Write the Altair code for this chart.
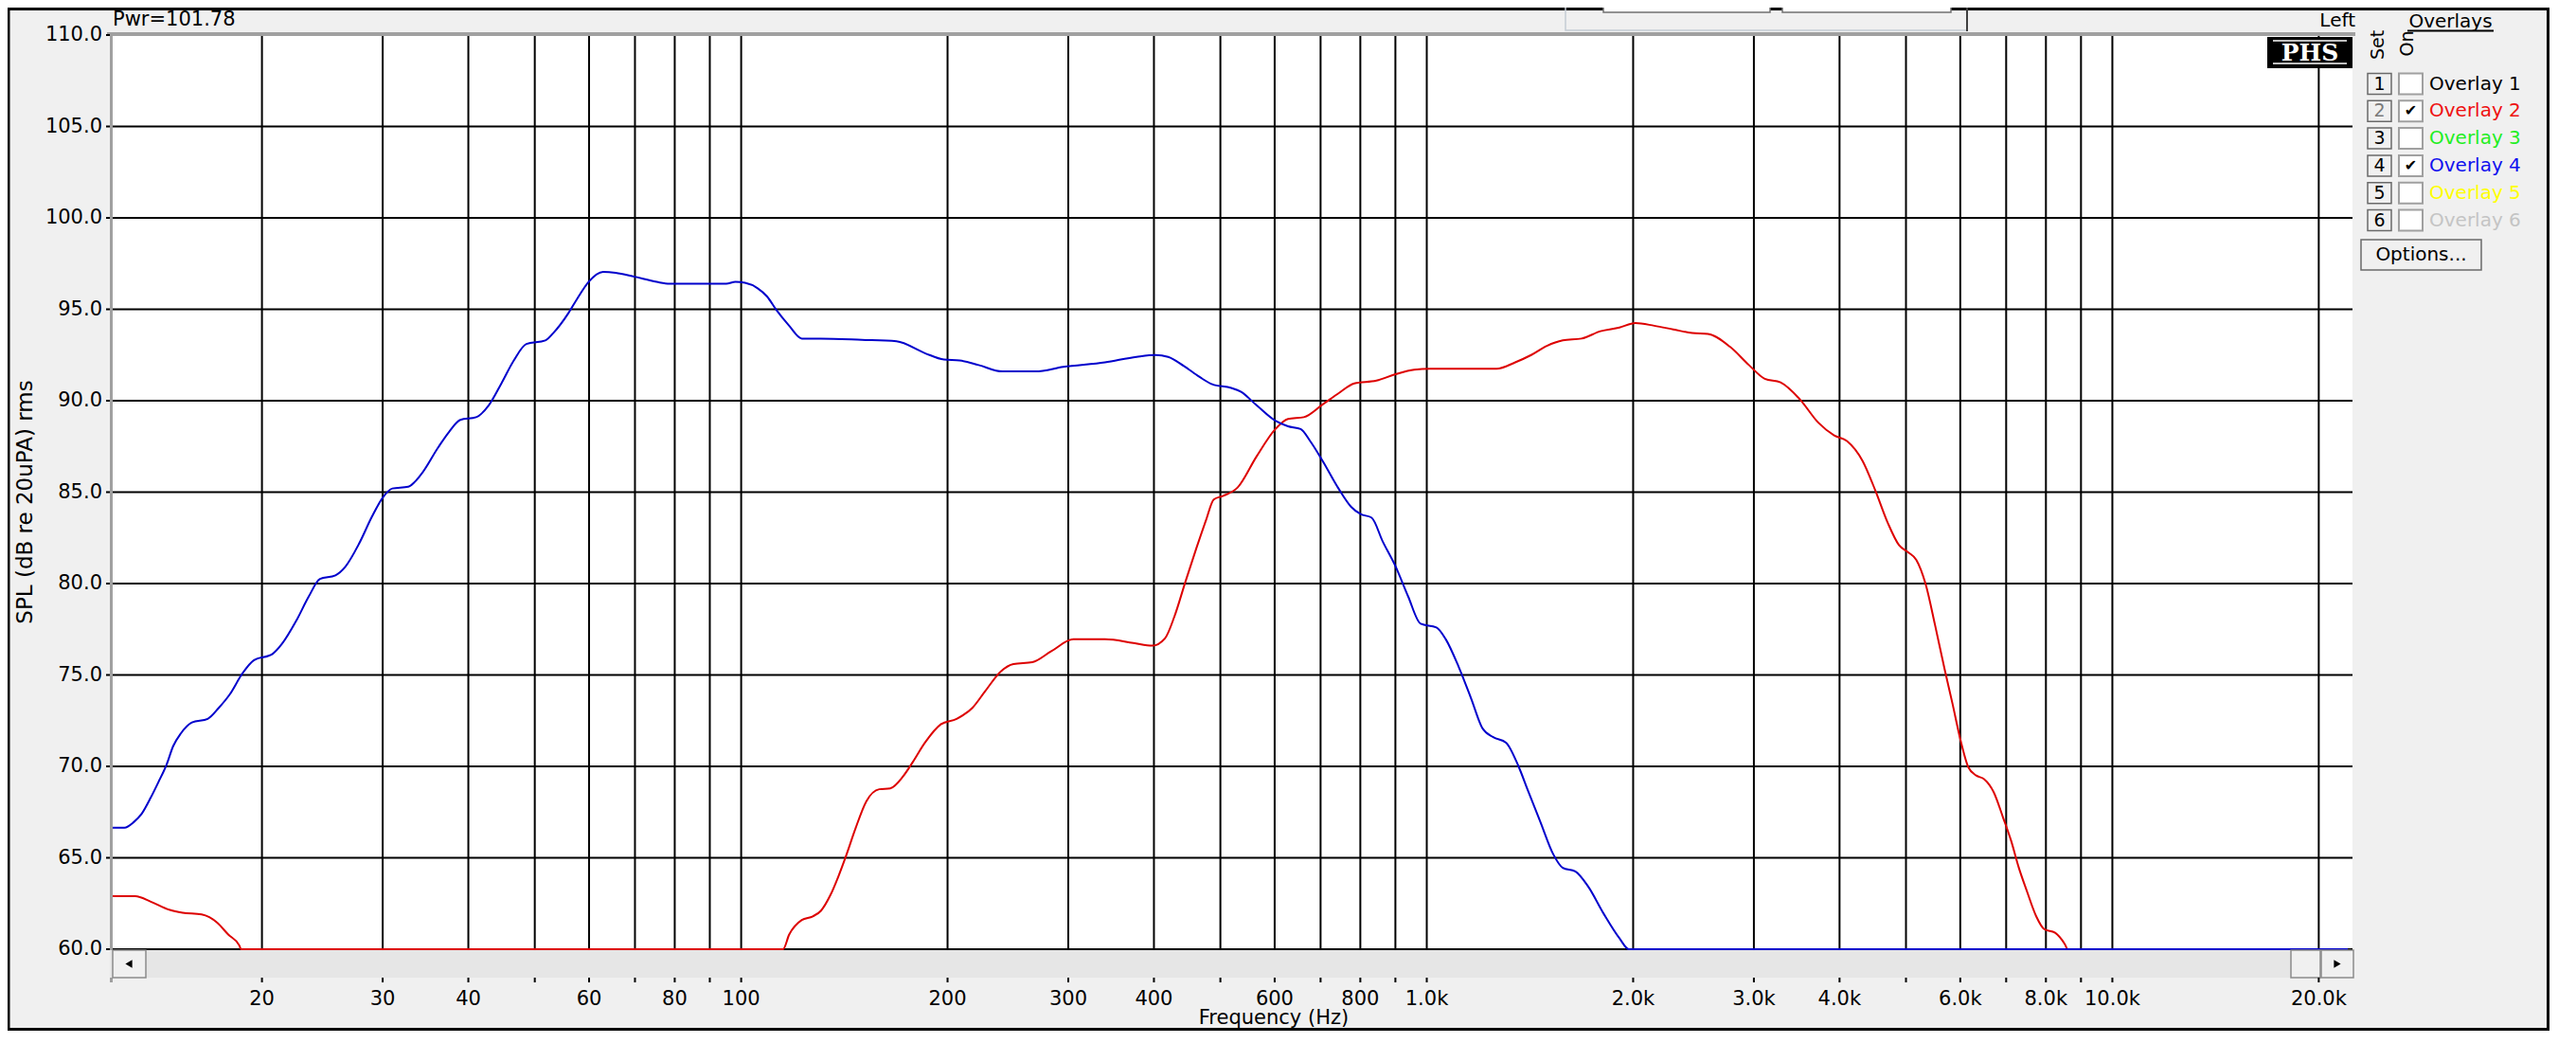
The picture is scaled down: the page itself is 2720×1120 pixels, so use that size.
import pandas as pd
import altair as alt

# ---------------- data ----------------
# Overlay 4 (blue)
blue_freq = [12, 12.6, 13.0, 13.35, 13.77, 14.15, 14.52, 14.84, 15.23, 15.81, 16.67, 17.3, 17.96, 18.74, 19.45,
             20.72, 21.39, 22.43, 23.41, 24.3, 25.6, 26.44, 27.73, 28.93, 30.0, 31.0, 32.7, 34.1, 36.15, 37.5,
             38.93, 41.06, 42.84, 44.7, 46.6, 48.6, 51.8, 53.2, 56.0, 57.7, 59.9, 62.9, 65.6, 69.9, 75.3, 78.6,
             85.5, 95.1, 98.1, 101.3, 105.7, 109.1, 112.6, 117.5, 122.6, 130.7, 150, 168.5, 185.4, 197.6, 208.3,
             222, 240.4, 268.7, 295, 339.4, 377.3, 402.1, 419.5, 442.3, 466.3, 486.5, 518.6, 535.3, 564.6, 601.5,
             627.5, 654.6, 675.8, 705.1, 743.4, 775.5, 800.7, 831, 862.5, 900.2, 939.2, 979.7, 1033, 1066, 1113,
             1161, 1205, 1250, 1305, 1361, 1404, 1465, 1529, 1579, 1647, 1718, 1811, 1910, 1972, 22050]
blue_db = [66.65, 66.65, 66.95, 67.4, 68.3, 69.2, 70.1, 71.1, 71.8, 72.4, 72.6, 73.2, 73.95, 75.1, 75.8,
           76.15, 76.7, 77.95, 79.3, 80.25, 80.45, 80.9, 82.2, 83.65, 84.7, 85.2, 85.3, 85.95, 87.45, 88.3,
           88.95, 89.1, 89.75, 90.95, 92.2, 93.1, 93.3, 93.7, 94.8, 95.6, 96.5, 97.05, 97.0, 96.78, 96.5, 96.4,
           96.4, 96.4, 96.5, 96.45, 96.15, 95.7, 94.95, 94.1, 93.4, 93.4, 93.33, 93.25, 92.6, 92.25, 92.2,
           91.95, 91.6, 91.6, 91.85, 92.1, 92.4, 92.5, 92.4, 91.9, 91.3, 90.9, 90.7, 90.5, 89.75, 88.9,
           88.6, 88.45, 87.8, 86.7, 85.2, 84.2, 83.8, 83.6, 82.3, 80.95, 79.3, 77.8, 77.6, 76.95, 75.45,
           73.7, 72.1, 71.6, 71.3, 70.0, 68.7, 66.95, 65.2, 64.45, 64.25, 63.45, 61.95, 60.6, 60.0, 60.0]

# Overlay 2 (red)
red_freq = [12, 13.07, 13.77, 14.68, 15.32, 16.33, 17.21, 17.86, 18.54, 18.64, 115.1, 117.5, 122.6, 127.2,
            130.7, 134.9, 138.5, 142.2, 146.8, 152.3, 159.0, 165.0, 172.2, 177.7, 185.4, 195.5, 206.2, 217.4,
            226.8, 239.2, 249.5, 265.9, 283.4, 305.2, 339.4, 373.3, 397.9, 415.1, 428.5, 444.6, 461.4, 476.3,
            489.1, 505, 529.7, 564.6, 601.5, 627.5, 661.8, 705.1, 743.4, 784, 844.3, 900.2, 958.9, 1011, 1264,
            1346, 1420, 1497, 1579, 1682, 1792, 1910, 2015, 2147, 2288, 2439, 2571, 2769, 2951, 3112, 3281,
            3497, 3725, 3928, 4100, 4323, 4510, 4706, 4884, 5041, 5176, 5343, 5515, 5694, 5848, 6004, 6166,
            6331, 6501, 6711, 6928, 7115, 7305, 7501, 7743, 7952, 8251, 8517, 8610, 22050]
red_db = [62.9, 62.9, 62.6, 62.15, 62.0, 61.9, 61.45, 60.8, 60.2, 60.0, 60.0, 60.8, 61.6, 61.8,
          62.1, 62.95, 63.95, 65.1, 66.6, 68.1, 68.75, 68.8, 69.45, 70.2, 71.3, 72.3, 72.6, 73.2,
          74.1, 75.2, 75.6, 75.7, 76.3, 76.95, 76.95, 76.75, 76.6, 77.0, 78.2, 80.1, 81.95, 83.45,
          84.6, 84.8, 85.25, 86.95, 88.45, 89.0, 89.1, 89.8, 90.4, 90.95, 91.1, 91.45, 91.7, 91.75, 91.75,
          92.1, 92.5, 93.0, 93.3, 93.4, 93.8, 94.0, 94.25, 94.1, 93.9, 93.7, 93.65, 92.95, 91.95, 91.2, 91.0,
          90.1, 88.8, 88.1, 87.8, 86.7, 85.1, 83.3, 82.1, 81.7, 81.3, 79.95, 77.7, 75.3, 73.4, 71.45, 69.95,
          69.5, 69.3, 68.6, 67.2, 65.95, 64.45, 63.2, 61.8, 61.1, 60.9, 60.3, 60.0, 60.0]

grid_freqs = [20, 30, 40, 50, 60, 70, 80, 90, 100, 200, 300, 400, 500, 600, 700, 800, 900,
              1000, 2000, 3000, 4000, 5000, 6000, 7000, 8000, 9000, 10000, 20000]
tick_labels = ["20", "30", "40", "", "60", "", "80", "", "100", "200", "300", "400", "", "600", "", "800", "",
               "1.0k", "2.0k", "3.0k", "4.0k", "", "6.0k", "", "8.0k", "", "10.0k", "20.0k"]
grid_db = [60, 65, 70, 75, 80, 85, 90, 95, 100, 105, 110]

pwr_text = "Pwr=101.78"
x_title = "Frequency (Hz)"
y_title = "SPL (dB re 20uPA) rms"
overlay_nums = ["1", "2", "3", "4", "5", "6"]
overlay_names = ["Overlay 1", "Overlay 2", "Overlay 3", "Overlay 4", "Overlay 5", "Overlay 6"]
overlay_colors = ["#000000", "#ee1111", "#22ee22", "#1111ee", "#ffff00", "#c4c4c4"]
overlay_on = [False, True, False, True, False, False]

# ---------------- styling ----------------
FONT = "DejaVu Sans"
BLUE = "#0000cc"
RED = "#dd0000"
GRAY = "#a0a0a0"

xs = alt.Scale(type="log", domain=[12, 22400], nice=False)
ys = alt.Scale(domain=[60, 110], nice=False, zero=False)

one = pd.DataFrame({"k": [0]})
xticks_df = pd.DataFrame({"freq": grid_freqs, "lab": tick_labels})
ygrid_df = pd.DataFrame({"db": grid_db})

XF = alt.X("freq:Q", scale=xs, axis=None)
YF = alt.Y("db:Q", scale=ys, axis=None)

# ---------------- plot layers ----------------
hgrid = alt.Chart(ygrid_df).mark_rule(color="black", strokeWidth=2).encode(y=YF)
vgrid = alt.Chart(xticks_df).mark_rule(color="black", strokeWidth=2).encode(x=XF)

red_line = alt.Chart(pd.DataFrame({"freq": red_freq, "db": red_db})).mark_line(
    color=RED, strokeWidth=2, interpolate="monotone").encode(x=XF, y=YF)
blue_line = alt.Chart(pd.DataFrame({"freq": blue_freq, "db": blue_db})).mark_line(
    color=BLUE, strokeWidth=2, interpolate="monotone").encode(x=XF, y=YF)

# axes drawn from the tick arrays through the same scales
x_ticks = alt.Chart(xticks_df).mark_rule(color="black", strokeWidth=2).encode(
    x=XF, y=alt.value(995), y2=alt.value(1000))
x_labels = alt.Chart(xticks_df).mark_text(font=FONT, fontSize=21, color="black", align="center",
                                          baseline="top").encode(x=XF, y=alt.value(1007), text="lab:N")
y_ticks = alt.Chart(ygrid_df).mark_rule(color="black", strokeWidth=2).encode(
    y=YF, x=alt.value(-4), x2=alt.value(0))
y_labels = alt.Chart(ygrid_df).mark_text(font=FONT, fontSize=21, color="black", align="right",
                                         baseline="middle").encode(
    y=YF, x=alt.value(-8), text=alt.Text("db:Q", format=".1f"))

base1 = alt.Chart(one)


def box(x1, x2, y1, y2, **kw):
    return base1.mark_rect(**kw).encode(x=alt.value(x1), x2=alt.value(x2), y=alt.value(y1), y2=alt.value(y2))


def hline(x1, x2, y, color, w):
    return base1.mark_rule(color=color, strokeWidth=w).encode(x=alt.value(x1), x2=alt.value(x2), y=alt.value(y))


def vline(x, y1, y2, color, w):
    return base1.mark_rule(color=color, strokeWidth=w).encode(x=alt.value(x), y=alt.value(y1), y2=alt.value(y2))


def label(txt, x, y, size=20, align="left", baseline="alphabetic", color="black", angle=0, font=FONT,
          weight="normal"):
    return alt.Chart(pd.DataFrame({"t": [txt]})).mark_text(
        align=align, baseline=baseline, fontSize=size, font=font, color=color, angle=angle,
        fontWeight=weight).encode(text="t:N", x=alt.value(x), y=alt.value(y))


x_title_t = label(x_title, 1229, 1044, size=21, align="center")
y_title_t = label(y_title, -89, 493, size=23, align="center", baseline="middle", angle=270)

# sunken plot borders
top_border = hline(-3, 2371, -1, GRAY, 4)
left_border = vline(1.5, -3, 1000, GRAY, 3)

# scrollbar under the plot
track = box(0, 2369, 966, 995, fill="#e6e6e6")
lbtn = box(3, 38, 966, 995, fill="#f0f0f0", stroke="#8a8a8a", strokeWidth=1.5)
thumb = box(2303, 2334, 966, 995, fill="#f0f0f0", stroke="#8a8a8a", strokeWidth=1.5)
rbtn = box(2335, 2369, 966, 995, fill="#f0f0f0", stroke="#8a8a8a", strokeWidth=1.5)
larrow = base1.mark_point(shape="triangle-left", filled=True, size=70, color="black", opacity=1).encode(
    x=alt.value(20), y=alt.value(980.5))
rarrow = base1.mark_point(shape="triangle-right", filled=True, size=70, color="black", opacity=1).encode(
    x=alt.value(2352), y=alt.value(980.5))

# PHS logo
logo_bg = box(2278, 2368, 2, 35, fill="black")
logo_l1 = hline(2284, 2362, 6, "white", 1.5)
logo_l2 = hline(2284, 2362, 30, "white", 1.5)
logo_t = label("PHS", 2323, 18.5, size=25, align="center", baseline="middle", color="white",
               font="DejaVu Serif", weight="bold")

# outer frame and top bar widgets
frame = box(-107, 2574.5, -27.5, 1049.5, fillOpacity=0, stroke="black", strokeWidth=3)
grp = box(1537, 1961, -30, -5, fillOpacity=0, stroke="#c4ccd4", strokeWidth=1.5)
grp_r = vline(1961, -29, -4, "#404040", 2)
w1 = box(1577, 1753, -30, -24, fill="white", stroke="#707070", strokeWidth=1.5)
w2 = box(1766, 1944, -30, -24, fill="white", stroke="#707070", strokeWidth=1.5)

pwr = label(pwr_text, 3, -10, size=21)
left_t = label("Left", 2371, -9, size=20, align="right")
ovl_t = label("Overlays", 2471.5, -8, size=20, align="center")
ovl_u = hline(2426, 2517, -4.5, "black", 2)
set_t = label("Set", 2395, 10.5, size=19, align="center", baseline="middle", angle=270)
on_t = label("On", 2426, 9, size=19, align="center", baseline="middle", angle=270)

# overlay rows
panel_df = pd.DataFrame({"row": list(range(6)), "num": overlay_nums, "name": overlay_names,
                         "color": overlay_colors, "on": overlay_on})
panel = alt.Chart(panel_df).transform_calculate(
    cy="51.5 + 28.8 * datum.row", y0="datum.cy - 11", y1="datum.cy + 11")
ypix = alt.Y("cy:Q", scale=None, axis=None)
btn = panel.mark_rect(fill="#f0f0f0", stroke="#6a6a6a", strokeWidth=1.5).encode(
    x=alt.value(2384), x2=alt.value(2409), y=alt.Y("y0:Q", scale=None, axis=None), y2=alt.Y2("y1"))
btn_t = panel.mark_text(fontSize=19, font=FONT, baseline="middle", align="center").encode(
    x=alt.value(2396.5), y=ypix, text="num:N",
    color=alt.condition("datum.row == 1", alt.value("#7a7a7a"), alt.value("black")))
chk = panel.mark_rect(fill="white", stroke=GRAY, strokeWidth=2).encode(
    x=alt.value(2417), x2=alt.value(2442), y=alt.Y("y0:Q", scale=None, axis=None), y2=alt.Y2("y1"))
chk_m = panel.transform_filter("datum.on").mark_text(fontSize=16, font=FONT, baseline="middle",
                                                     align="center", color="black").encode(
    x=alt.value(2429.5), y=ypix, text=alt.value("✔"))
names = panel.mark_text(fontSize=20, font=FONT, baseline="middle", align="left").encode(
    x=alt.value(2449), y=ypix, text="name:N", color=alt.Color("color:N", scale=None))

opt_b = box(2377, 2504, 216, 248, fill="#f0f0f0", stroke="#6a6a6a", strokeWidth=1.5)
opt_t = label("Options...", 2440.5, 232, size=20, align="center", baseline="middle")

chart = alt.layer(
    hgrid, vgrid, red_line, blue_line,
    top_border, left_border,
    track, lbtn, thumb, rbtn, larrow, rarrow,
    x_ticks, x_labels, y_ticks, y_labels, x_title_t, y_title_t,
    logo_bg, logo_l1, logo_l2, logo_t,
    frame, grp, grp_r, w1, w2,
    pwr, left_t, ovl_t, ovl_u, set_t, on_t,
    btn, btn_t, chk, chk_m, names, opt_b, opt_t,
).properties(
    width=2368, height=965,
    autosize=alt.AutoSizeParams(type="none"),
    padding={"left": 108, "top": 29, "right": 208, "bottom": 86},
    background="#f0f0f0",
).configure_view(fill="white", strokeWidth=0)

chart.save("out.html", embed_options={"renderer": "svg", "actions": False})
